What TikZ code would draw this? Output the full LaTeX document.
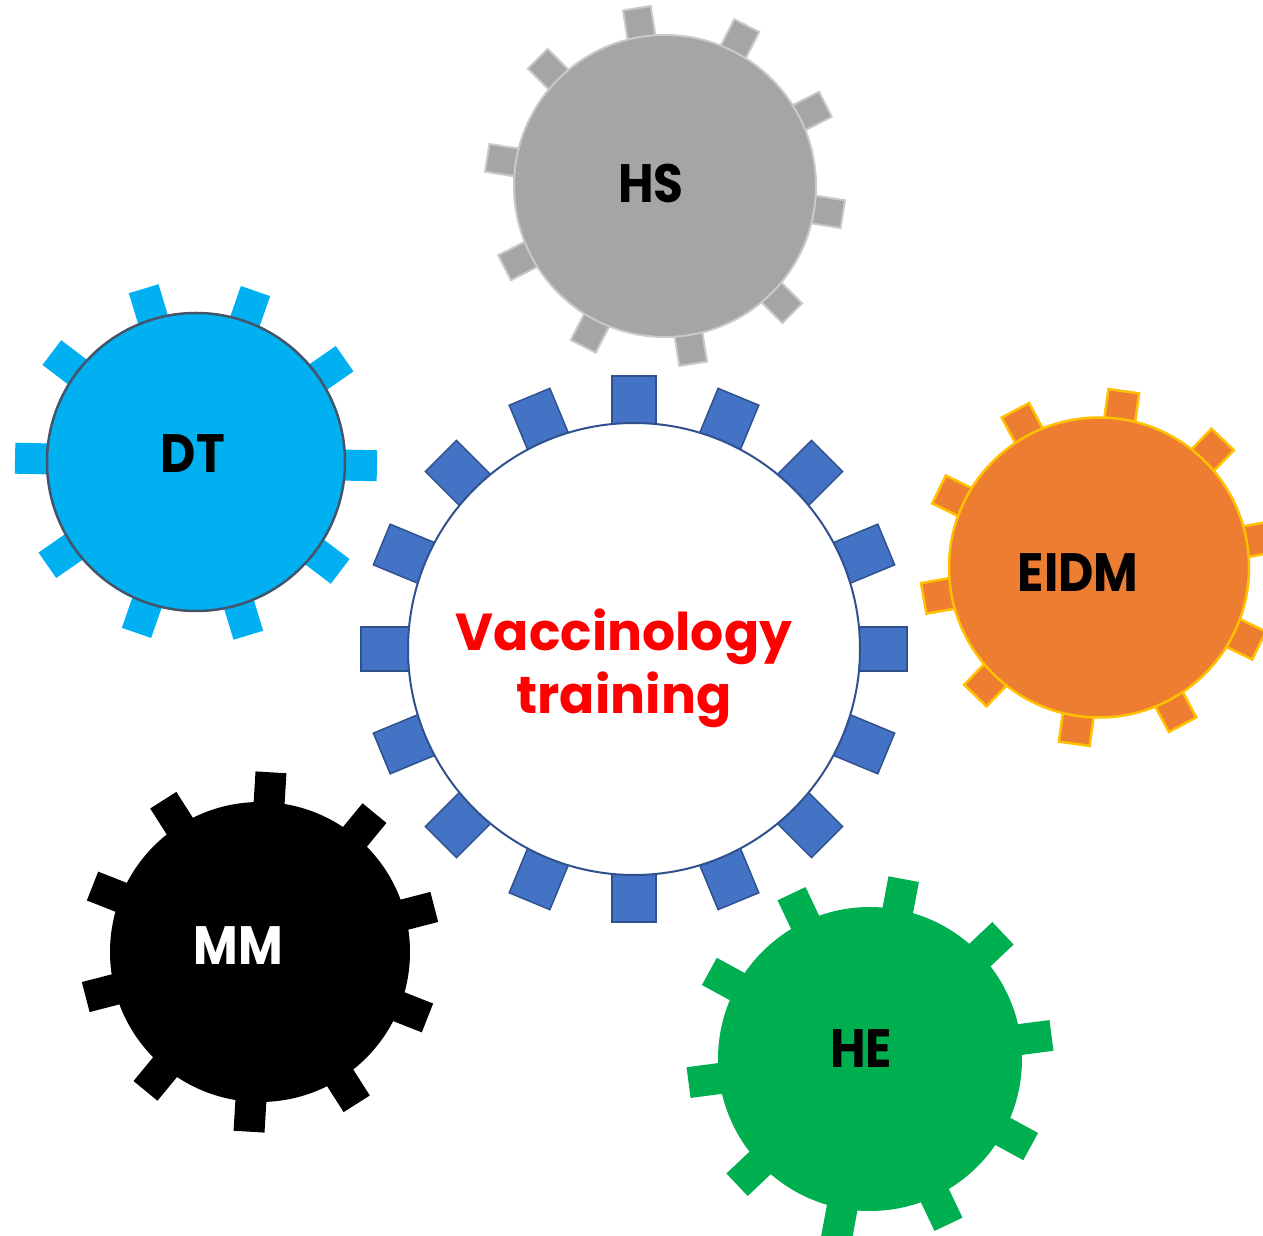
\documentclass[tikz,border=0pt]{standalone}
\usepackage{fontspec}
\setmainfont{Poppins}
\definecolor{hubBlue}{HTML}{4472C4}
\definecolor{hubEdge}{HTML}{2F528F}
\definecolor{hsGray}{HTML}{A5A5A5}
\definecolor{hsEdge}{HTML}{C9C9C9}
\definecolor{dtCyan}{HTML}{00B0F0}
\definecolor{dtEdge}{HTML}{44546A}
\definecolor{eidmOrange}{HTML}{ED7D31}
\definecolor{eidmEdge}{HTML}{FFC000}
\definecolor{heGreen}{HTML}{00B050}

% slightly narrowed bold label text
\newcommand{\gearlabel}[1]{\scalebox{0.9}[1]{#1}}

\begin{document}
\begin{tikzpicture}[x=1pt,y=1pt,
  label/.style={font=\fontsize{54}{60}\selectfont\bfseries, inner sep=0pt}]

  \useasboundingbox (0,0) rectangle (1263,1235);

  % Central gear: 16 teeth round a white hub
  \begin{scope}[shift={(634,586)}]
    \foreach \k in {0,...,15}
      \filldraw[hubBlue, draw=hubEdge, line width=1.5pt, rotate=22.5*\k]
        (200,-22) rectangle (273,22);
    \filldraw[fill=white, draw=hubEdge, line width=2pt] (0,0) circle (226);
  \end{scope}

  % HS gear (top)
  \begin{scope}[shift={(665,1049)}]
    \foreach \k in {0,...,9}
      \filldraw[hsGray, draw=hsEdge, line width=2pt, rotate=99+36*\k]
        (130,-14) rectangle (180,14);
    \filldraw[fill=hsGray, draw=hsEdge, line width=2pt] (0,0) circle (151);
  \end{scope}

  % DT gear (left)
  \begin{scope}[shift={(196,773)}]
    \foreach \k in {0,...,9}
      \fill[dtCyan, rotate=-1.2+36*\k] (130,-15.5) rectangle (181,15.5);
    \filldraw[fill=dtCyan, draw=dtEdge, line width=2.5pt] (0,0) circle (149);
  \end{scope}

  % EIDM gear (right)
  \begin{scope}[shift={(1099,667.5)}]
    \foreach \k in {0,...,9}
      \filldraw[eidmOrange, draw=eidmEdge, line width=2.5pt, rotate=82+36*\k]
        (130,-15.5) rectangle (178,15.5);
    \filldraw[fill=eidmOrange, draw=eidmEdge, line width=2.5pt] (0,0) circle (150);
  \end{scope}

  % MM gear (bottom left)
  \begin{scope}[shift={(260,283)}]
    \foreach \k in {0,...,9}
      \fill[black, rotate=86.5+36*\k] (130,-15.5) rectangle (180,15.5);
    \fill[black] (0,0) circle (150);
  \end{scope}

  % HE gear (bottom right)
  \begin{scope}[shift={(870,176)}]
    \foreach \k in {0,...,9}
      \fill[heGreen, rotate=79.4+36*\k] (130,-15.5) rectangle (183,15.5);
    \fill[heGreen] (0,0) circle (152);
  \end{scope}

  % Labels
  \node[font=\fontsize{52}{63}\selectfont\bfseries, text=red, align=center] (vacc)
    at (624,567) {Vaccinology\\training};
  \node[label] (hs) at (651,1052) {\gearlabel{HS}};
  \node[label] (dt) at (193,781) {\gearlabel{DT}};
  \node[label] (eidm) at (1078,662) {\gearlabel{EIDM}};
  \node[label, text=white] (mm) at (238,289) {\gearlabel{MM}};
  \node[label] (he) at (861,186) {\gearlabel{HE}};

\end{tikzpicture}
\end{document}
